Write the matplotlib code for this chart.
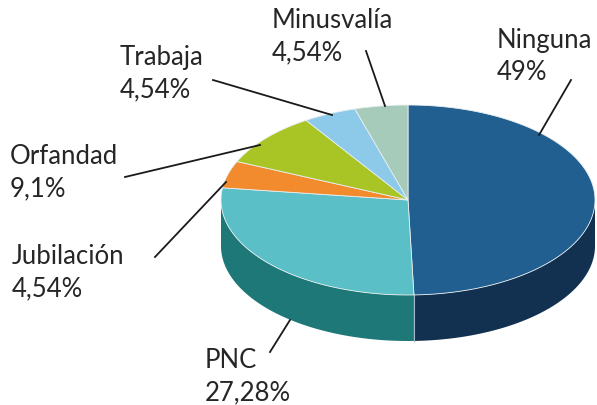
import numpy as np
import matplotlib
matplotlib.use("Agg")
import matplotlib.pyplot as plt
from matplotlib.patches import Polygon

# datos
categorias = ["Ninguna", "PNC", "Jubilación", "Orfandad", "Trabaja", "Minusvalía"]
valores = [49, 27.28, 4.54, 9.1, 4.54, 4.54]
etiquetas = ["49%", "27,28%", "4,54%", "9,1%", "4,54%", "4,54%"]
col_top = ["#215F91", "#5ABFC6", "#F28A2E", "#A9C525", "#8DC9E8", "#A6CBBB"]
col_lado = ["#12304F", "#1E7878", "#B5641E", "#7E941A", "#6A97AE", "#7C988C"]

# geometría del pastel (en píxeles)
cx, cy = 408, 201
rx, ry = 187, 95
prof = 46

# posiciones de etiquetas (x, línea base del nombre) y líneas guía
pos_txt = [(497, 48), (205, 368), (12, 264), (10, 164), (120, 65), (272, 28)]
salto = 32
lineas = [((571, 81), (539, 136)), ((270, 353), (290, 321)),
          ((155, 258), (226, 183)), ((125, 178), (260, 146)),
          ((213, 81), (332, 116)), ((366, 52), (385, 107))]

fig = plt.figure(figsize=(5.97, 4.06), dpi=100)
ax = fig.add_axes([0, 0, 1, 1])
ax.set_xlim(0, 597)
ax.set_ylim(406, 0)
ax.axis("off")

def punto(t, dy=0):
    return cx + rx * np.cos(t), cy - ry * np.sin(t) + dy

frac = np.array(valores) / sum(valores) * 2 * np.pi
ini = np.pi / 2
angulos = []
for f in frac:
    angulos.append((ini, ini - f))
    ini = ini - f

# paredes laterales (solo la parte frontal)
for i, (a, b) in enumerate(angulos):
    t = np.linspace(a, b, 200)
    t = t[np.sin(t) <= 0.001]
    if len(t) < 2:
        continue
    x, y = punto(t)
    xb, yb = punto(t[::-1], prof)
    pts = np.column_stack([np.r_[x, xb], np.r_[y, yb]])
    ax.add_patch(Polygon(pts, closed=True, fc=col_lado[i], ec="none", zorder=1))

# línea entre paredes en la parte inferior
x0, y0 = punto(angulos[0][1])
ax.plot([x0, x0], [y0, y0 + prof], color="#9FB8C8", lw=0.8, zorder=2)

# caras superiores
for i, (a, b) in enumerate(angulos):
    t = np.linspace(a, b, 200)
    x, y = punto(t)
    pts = np.column_stack([np.r_[cx, x], np.r_[cy, y]])
    ax.add_patch(Polygon(pts, closed=True, fc=col_top[i], ec="#E8EEF0",
                         lw=0.6, zorder=3))

# etiquetas
for i in range(len(categorias)):
    tx, ty = pos_txt[i]
    ax.text(tx, ty, categorias[i], fontsize=18.5, family="Lato",
            color="#262626", va="baseline", ha="left", zorder=5)
    ax.text(tx, ty + salto, etiquetas[i], fontsize=18.5, family="Lato",
            color="#262626", va="baseline", ha="left", zorder=5)
    (xa, ya), (xb, yb) = lineas[i]
    ax.plot([xa, xb], [ya, yb], color="#1A1A1A", lw=1.3, zorder=4)

fig.savefig("out.png", dpi=100)
